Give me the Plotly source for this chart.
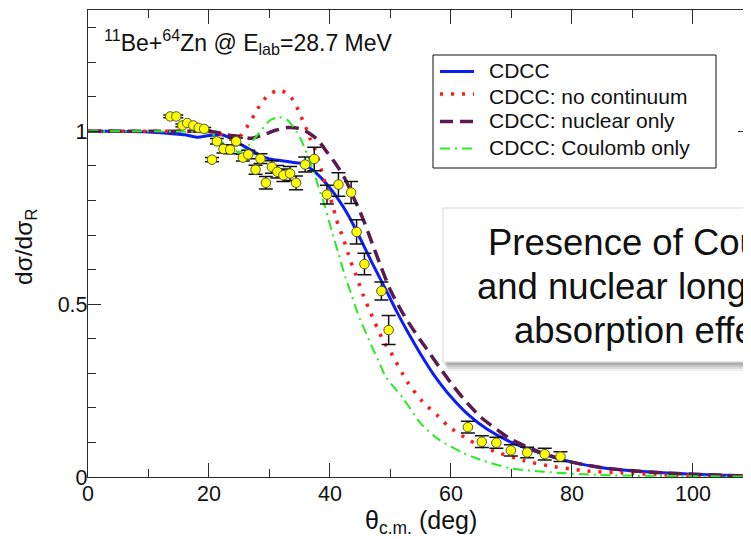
import plotly.graph_objects as go

# ---------------- data ----------------
theta_exp = [13.6, 14.6, 15.6, 16.4, 17.4, 18.3, 19.2, 20.5, 21.3, 22.4, 23.5, 24.5, 25.6, 26.5,
             27.7, 28.5, 29.4, 30.4, 31.3, 32.3, 33.4, 34.4, 35.9, 37.4, 39.5, 41.4, 43.5, 44.4,
             45.7, 48.5, 49.7, 62.8, 65.1, 67.5, 69.9, 72.6, 75.5, 78.1]
sigma_exp = [1.043, 1.043, 1.017, 1.024, 1.017, 1.010, 1.007, 0.918, 0.971, 0.949, 0.947, 0.971, 0.924, 0.933,
             0.889, 0.921, 0.851, 0.897, 0.883, 0.873, 0.878, 0.851, 0.904, 0.920, 0.817, 0.846, 0.823, 0.709,
             0.616, 0.538, 0.425, 0.144, 0.102, 0.099, 0.077, 0.071, 0.066, 0.059]
sigma_err = [0.004, 0.004, 0.004, 0.004, 0.004, 0.004, 0.004, 0.006, 0.008, 0.012, 0.012, 0.010, 0.010, 0.012,
             0.013, 0.014, 0.018, 0.018, 0.018, 0.018, 0.020, 0.020, 0.022, 0.034, 0.027, 0.034, 0.032, 0.035,
             0.031, 0.026, 0.042, 0.017, 0.017, 0.016, 0.016, 0.015, 0.017, 0.014]

theta_cdcc = [0, 5, 10, 14, 16, 18, 20, 22, 23, 25, 27, 28.5, 30, 32, 34, 35.5, 37, 38.5, 40, 41.5, 43,
              45, 47, 49, 51, 53, 55, 57, 60, 63, 66, 70, 75, 80, 85, 90, 95, 100, 105, 110]
sigma_cdcc = [1.0, 1.0, 0.998, 0.993, 0.99, 0.983, 0.988, 0.99, 0.985, 0.965, 0.945, 0.93, 0.92, 0.915,
              0.91, 0.906, 0.89, 0.866, 0.836, 0.8, 0.758, 0.69, 0.618, 0.55, 0.48, 0.415, 0.355, 0.3,
              0.232, 0.178, 0.138, 0.1, 0.068, 0.043, 0.027, 0.018, 0.012, 0.008, 0.005, 0.003]

theta_nocont = [0, 10, 18, 20, 21.8, 23.6, 25.4, 26.5, 27.5, 28.5, 29.8, 31.6, 33.3, 34.4, 35.2, 36.0,
                36.7, 37.6, 38.7, 39.3, 40.5, 41.0, 42.3, 43.4, 44.3, 45.6, 46.4, 48.9, 50.0, 52.8,
                55.3, 58.0, 59.7, 63.0, 66.6, 72.1, 76.0, 82.1, 88.1, 95.3, 106.4, 110]
sigma_nocont = [1.0, 1.0, 1.0, 1.0, 0.993, 0.977, 0.99, 1.019, 1.048, 1.078, 1.104, 1.12, 1.104, 1.075,
                1.043, 1.012, 0.979, 0.945, 0.882, 0.844, 0.783, 0.748, 0.685, 0.625, 0.584, 0.521, 0.488,
                0.391, 0.362, 0.275, 0.218, 0.174, 0.145, 0.107, 0.078, 0.047, 0.033, 0.018, 0.012,
                0.006, 0.003, 0.002]

theta_nucl = [0, 10, 18, 21, 23, 25, 27, 29, 31, 33, 35, 36.5, 38, 39.5, 41, 42.5, 44, 45.5, 47, 48.5,
              50, 52, 54, 56, 58, 60, 62, 65, 68, 70, 75, 80, 85, 90, 95, 100, 105, 110]
sigma_nucl = [1.0, 1.0, 1.0, 0.998, 0.99, 0.985, 0.98, 0.99, 1.003, 1.011, 1.008, 0.995, 0.975, 0.94,
              0.905, 0.862, 0.805, 0.745, 0.675, 0.605, 0.54, 0.475, 0.42, 0.37, 0.32, 0.272, 0.228, 0.172,
              0.132, 0.108, 0.07, 0.043, 0.027, 0.018, 0.012, 0.008, 0.005, 0.003]

theta_coul = [0, 10, 18, 20, 21.5, 22.9, 25.1, 26.8, 28.4, 30.1, 31.5, 32.9, 34.5, 35.4, 36.5, 37.3,
              38.1, 39.2, 40.3, 41.4, 42.5, 43.5, 44.5, 46.7, 48.3, 49.2, 52.0, 55.0, 58.0, 62.0,
              65.0, 69.9, 75.4, 84.3, 95.3, 110]
sigma_coul = [1.0, 1.0, 0.998, 0.995, 0.983, 0.955, 0.94, 0.964, 0.998, 1.032, 1.041, 1.034, 0.998,
              0.969, 0.921, 0.884, 0.839, 0.781, 0.71, 0.647, 0.58, 0.53, 0.478, 0.386, 0.325, 0.29,
              0.23, 0.155, 0.108, 0.07, 0.049, 0.025, 0.015, 0.006, 0.003, 0.001]

series_names = ["CDCC", "CDCC: no continuum", "CDCC: nuclear only", "CDCC: Coulomb only"]
x_ticks = [0, 20, 40, 60, 80, 100]
y_ticks = [0, 0.5, 1]
y_ticklabels = ["0", "0.5", "1"]

# ---------------- geometry helpers (page pixel -> paper) ----------------
OFF = 8                      # default body margin of the page
W, H = 743, 531
L, R, T, B = 80, 0, 2, 62
PW, PH = W - L - R, H - T - B


def px(xp):
    return (xp - OFF - L) / PW


def py(yp):
    return (H - B - (yp - OFF)) / PH


FONT = "Liberation Sans, Arial, sans-serif"
AX = "#2a2a2a"
TXT = "#111111"

styles = [
    dict(color="#0a1ef5", width=3),
    dict(color="#ff1a1a", width=3.5, dash="3px,8px"),
    dict(color="#5c1a4e", width=3.5, dash="13px,7px"),
    dict(color="#22ee22", width=2, dash="10px,5px,2px,5px"),
]
curves = [(theta_cdcc, sigma_cdcc), (theta_nocont, sigma_nocont),
          (theta_nucl, sigma_nucl), (theta_coul, sigma_coul)]

fig = go.Figure()
for (tx, ty), nm, st in zip(curves, series_names, styles):
    fig.add_trace(go.Scatter(x=tx, y=ty, mode="lines", name=nm, showlegend=False,
                             line=dict(shape="spline", smoothing=0.7, **st)))

fig.add_trace(go.Scatter(x=theta_exp, y=sigma_exp, mode="markers", showlegend=False,
                         marker=dict(color="#ffff00", size=9.5, line=dict(color="#555533", width=1)),
                         error_y=dict(type="data", array=sigma_err, visible=True, color="#111111",
                                      thickness=1.5, width=7)))
# invisible helper for the right-hand tick marks
fig.add_trace(go.Scatter(x=[], y=[], yaxis="y2", showlegend=False, hoverinfo="skip"))

fig.update_layout(
    width=W, height=H,
    margin=dict(l=L, r=R, t=T, b=B, pad=0),
    paper_bgcolor="white", plot_bgcolor="white",
    font=dict(family=FONT, color=TXT),
    showlegend=False,
    xaxis=dict(range=[0, 109.6], showgrid=False, zeroline=False,
               showline=True, linecolor=AX, linewidth=1.3, mirror="ticks",
               ticks="inside", ticklen=14, tickwidth=1.3, tickcolor=AX,
               tickvals=x_ticks, ticktext=[str(v) for v in x_ticks],
               ticklabelstandoff=-3,
               tickfont=dict(family=FONT, size=21.5, color=TXT),
               minor=dict(dtick=10, tick0=0, ticks="inside", ticklen=8, tickwidth=1.3, tickcolor=AX)),
    yaxis=dict(range=[0, 1.351], showgrid=False, zeroline=False,
               showline=True, linecolor=AX, linewidth=1.3, mirror=False,
               ticks="inside", ticklen=13, tickwidth=1.3, tickcolor=AX,
               tickvals=y_ticks, ticktext=y_ticklabels,
               ticklabelstandoff=-5,
               tickfont=dict(family=FONT, size=21.5, color=TXT),
               minor=dict(dtick=0.1, tick0=0, ticks="inside", ticklen=8, tickwidth=1.3, tickcolor=AX)),
    yaxis2=dict(range=[0, 1.351], overlaying="y", side="right", anchor="x",
                showgrid=False, zeroline=False, showline=False, showticklabels=False,
                ticks="inside", ticklen=13, tickwidth=1.3, tickcolor=AX,
                tickvals=y_ticks,
                minor=dict(dtick=0.1, tick0=0, ticks="inside", ticklen=8, tickwidth=1.3, tickcolor=AX)),
)

annotations = [
    dict(text="<sup>11</sup>Be+<sup>64</sup>Zn @ E<sub>lab</sub>=28.7 MeV", x=px(102), y=py(42),
         xref="paper", yref="paper", xanchor="left", yanchor="middle", showarrow=False,
         font=dict(family=FONT, size=23, color=TXT)),
    dict(text="dσ/dσ<sub>R</sub>", x=px(25), y=py(247), xref="paper", yref="paper",
         xanchor="center", yanchor="middle", showarrow=False, textangle=-90,
         font=dict(family=FONT, size=24.5, color=TXT)),
    dict(text="θ<sub>c.m.</sub> (deg)", x=px(421), y=py(522), xref="paper", yref="paper",
         xanchor="center", yanchor="middle", showarrow=False,
         font=dict(family=FONT, size=25, color=TXT)),
]

# legend (drawn by hand to match the box geometry)
leg_text_y = [71, 96.5, 120.5, 147.5]
leg_line_y = [71.5, 94, 121.5, 148.5]
shapes = [dict(type="rect", xref="paper", yref="paper", layer="above",
               x0=px(433), x1=px(716), y0=py(168), y1=py(55),
               fillcolor="white", line=dict(color=TXT, width=1))]
for nm, st, ty, ly in zip(series_names, styles, leg_text_y, leg_line_y):
    shapes.append(dict(type="line", xref="paper", yref="paper", layer="above",
                       x0=px(440), x1=px(474), y0=py(ly), y1=py(ly), line=st))
    annotations.append(dict(text=nm, x=px(487), y=py(ty), xref="paper", yref="paper",
                            xanchor="left", yanchor="middle", showarrow=False,
                            font=dict(family=FONT, size=21, color=TXT)))

# slide overlay text box with a soft shadow
for k, op in [(9, 0.06), (7, 0.08), (5, 0.1), (3, 0.12)]:
    shapes.append(dict(type="rect", xref="paper", yref="paper", layer="above",
                       x0=px(443 + k / 2), x1=px(790), y0=py(362 + k), y1=py(208 + k),
                       fillcolor=f"rgba(0,0,0,{op})", line=dict(width=0)))
shapes.append(dict(type="rect", xref="paper", yref="paper", layer="above",
                   x0=px(443), x1=px(790), y0=py(362), y1=py(208),
                   fillcolor="white", line=dict(color="#d8d8d8", width=1)))

box_lines = ["Presence of Coulomb", "and nuclear long range", "absorption effects."]
box_centers = [242, 286, 330]
for txt, yc in zip(box_lines, box_centers):
    annotations.append(dict(text=txt, x=px(663), y=py(yc), xref="paper", yref="paper",
                            xanchor="center", yanchor="middle", showarrow=False,
                            font=dict(family=FONT, size=36.5, color=TXT)))

fig.update_layout(annotations=annotations, shapes=shapes)

fig.write_html("out.html")
